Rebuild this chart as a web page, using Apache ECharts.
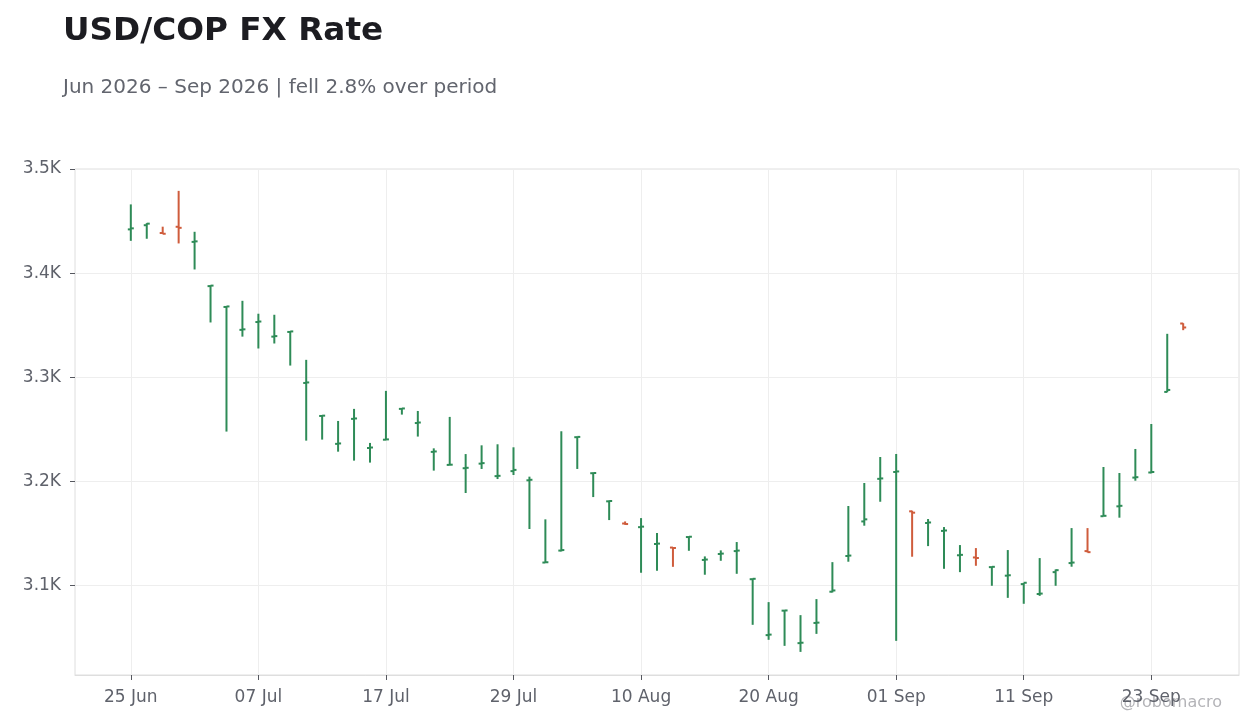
<!DOCTYPE html>
<html>
<head>
<meta charset="utf-8">
<title>USD/COP FX Rate</title>
<script src="https://cdn.jsdelivr.net/npm/echarts@6/dist/echarts.min.js"></script>
<style>
  html, body { margin: 0; padding: 0; background: #fff; }
  #chart { width: 1260px; height: 728px; }
</style>
</head>
<body>
<div id="chart"></div>
<script>
// business days shown on the x axis
var dates = [
  '2026-06-25', '2026-06-26', '2026-06-29', '2026-06-30',
  '2026-07-01', '2026-07-02', '2026-07-03', '2026-07-06', '2026-07-07', '2026-07-08',
  '2026-07-09', '2026-07-10', '2026-07-13', '2026-07-14', '2026-07-15', '2026-07-16',
  '2026-07-17', '2026-07-20', '2026-07-21', '2026-07-22', '2026-07-23', '2026-07-24',
  '2026-07-27', '2026-07-28', '2026-07-29', '2026-07-30', '2026-07-31',
  '2026-08-03', '2026-08-04', '2026-08-05', '2026-08-06', '2026-08-07', '2026-08-10',
  '2026-08-11', '2026-08-12', '2026-08-13', '2026-08-14', '2026-08-17', '2026-08-18',
  '2026-08-19', '2026-08-20', '2026-08-21', '2026-08-24', '2026-08-25', '2026-08-26',
  '2026-08-27', '2026-08-28', '2026-08-31',
  '2026-09-01', '2026-09-02', '2026-09-03', '2026-09-04', '2026-09-07', '2026-09-08',
  '2026-09-09', '2026-09-10', '2026-09-11', '2026-09-14', '2026-09-15', '2026-09-16',
  '2026-09-17', '2026-09-18', '2026-09-21', '2026-09-22', '2026-09-23', '2026-09-24',
  '2026-09-25'
];

var openVals = [
  3442, 3446, 3438.5, 3444.5, 3430, 3387.5, 3367.5, 3345.5, 3353, 3339,
  3343.5, 3294.5, 3262.8, 3236, 3260, 3232, 3240, 3269.6, 3256, 3228.3,
  3215.8, 3212.6, 3217, 3205, 3209.8, 3201, 3122, 3133.5, 3242.4, 3207.8,
  3180.8, 3159.5, 3156, 3139.8, 3136.4, 3146.5, 3124.5, 3130.2, 3133, 3106,
  3052.3, 3075.8, 3044.6, 3064, 3094, 3128.3, 3161.5, 3202.4, 3209, 3171.2,
  3160, 3152.4, 3129, 3126.9, 3117.6, 3109.4, 3101.3, 3091.8, 3112.8, 3121.5,
  3133, 3166.5, 3176, 3203.6, 3208.5, 3285.9, 3351.6
];
var highVals = [
  3466, 3448, 3444.6, 3479, 3439.7, 3388.3, 3368.3, 3373.4, 3361, 3360,
  3344.3, 3316.7, 3263.5, 3258, 3269.6, 3236.9, 3286.9, 3270.3, 3267.6, 3231.7,
  3261.9, 3226.2, 3234.6, 3235.6, 3232.7, 3204.5, 3163.5, 3248.1, 3242.9, 3208.3,
  3181.4, 3161.5, 3164.7, 3150.3, 3136.6, 3147, 3127.9, 3133.7, 3141.7, 3106.7,
  3084, 3076.2, 3071.5, 3086.9, 3122.4, 3176.3, 3198.4, 3223.4, 3226.3, 3171.8,
  3163.8, 3156.1, 3138.8, 3135.9, 3118.1, 3134, 3102.6, 3126.3, 3115.4, 3155.1,
  3155.1, 3213.8, 3208, 3231.1, 3255.1, 3341.7, 3351.9
];
var lowVals = [
  3431, 3433, 3437.5, 3428.5, 3403.5, 3352.6, 3247.8, 3339, 3327.6, 3332.4,
  3311.2, 3239.1, 3240.1, 3228.5, 3219.9, 3218, 3239.6, 3264.1, 3243, 3210.3,
  3215.5, 3188.8, 3211.9, 3202.2, 3206.1, 3154.2, 3121.7, 3132.7, 3211.9, 3184.9,
  3162.8, 3158.3, 3112.2, 3114.1, 3117.9, 3133.3, 3110.3, 3123.7, 3111.2, 3062.2,
  3047.8, 3042, 3036.2, 3053.5, 3093.3, 3122.8, 3157.4, 3180.4, 3046.8, 3127.6,
  3137.8, 3116, 3112.8, 3118.9, 3099.7, 3088.1, 3082.4, 3090, 3099.7, 3118,
  3131.7, 3166.3, 3165.1, 3200.6, 3207.7, 3285.6, 3345.2
];
var closeVals = [
  3443, 3447.5, 3437.8, 3443.5, 3430.5, 3388, 3368, 3346, 3353.5, 3339.5,
  3344, 3295, 3263.1, 3236.4, 3260.4, 3232.5, 3240.3, 3270, 3256.5, 3228.7,
  3216, 3213, 3217.5, 3205.3, 3211, 3201.5, 3122.3, 3134, 3242.7, 3208,
  3181.1, 3159, 3156.5, 3140.2, 3136, 3146.8, 3124.9, 3130.6, 3133.5, 3106.4,
  3052.8, 3076, 3045, 3064.3, 3095.2, 3128.7, 3163.5, 3202.8, 3209.5, 3169.9,
  3160.5, 3152.8, 3129.4, 3126.4, 3117.9, 3109.8, 3102.6, 3092.2, 3114.7, 3122,
  3132, 3166.9, 3176.5, 3204, 3209, 3287.8, 3347.8
];

var yMin = 3014;
var yMax = 3500;

var UP = '#2e8b57';
var DOWN = '#cf5c3c';
var MONTHS = ['Jan', 'Feb', 'Mar', 'Apr', 'May', 'Jun', 'Jul', 'Aug', 'Sep', 'Oct', 'Nov', 'Dec'];
var PAD = 3; // empty slots on each side of the axis
var LABEL_EVERY = 8;

function fmtDate (s) {
  if (!s) return '';
  var p = s.split('-');
  return p[2] + ' ' + MONTHS[+p[1] - 1];
}

var pad = [];
for (var k = 0; k < PAD; k++) pad.push('');
var categories = pad.concat(dates).concat(pad);

var ohlc = dates.map(function (d, i) {
  return [i + PAD, openVals[i], highVals[i], lowVals[i], closeVals[i]];
});

function showAt (idx) {
  var i = idx - PAD;
  return i >= 0 && i < dates.length && i % LABEL_EVERY === 0;
}

var chart = echarts.init(document.getElementById('chart'));

var option = {
  backgroundColor: '#ffffff',
  animation: false,
  textStyle: { fontFamily: 'DejaVu Sans' },
  title: [
    {
      text: 'USD/COP FX Rate',
      left: 58,
      top: 10,
      textStyle: { fontSize: 32.7, fontWeight: 'bold', color: '#1c1c21', fontFamily: 'DejaVu Sans' }
    },
    {
      text: 'Jun 2026 – Sep 2026 | fell 2.8% over period',
      left: 58,
      top: 73,
      textStyle: { fontSize: 20, fontWeight: 'normal', color: '#62656e', fontFamily: 'DejaVu Sans' }
    }
  ],
  graphic: [
    {
      type: 'text',
      right: 38,
      top: 695,
      style: { text: '@robomacro', fontSize: 16, fill: '#b4b4b8', fontFamily: 'DejaVu Sans' }
    }
  ],
  grid: {
    left: 75,
    right: 21,
    top: 169,
    bottom: 53,
    show: true,
    borderColor: '#dedede',
    borderWidth: 1,
    backgroundColor: '#ffffff'
  },
  xAxis: {
    type: 'category',
    data: categories,
    boundaryGap: true,
    axisLine: { show: true, lineStyle: { color: '#dedede' } },
    axisTick: {
      show: true,
      alignWithLabel: true,
      interval: showAt,
      length: 5,
      lineStyle: { color: '#55575e' }
    },
    axisLabel: {
      interval: showAt,
      formatter: fmtDate,
      fontSize: 17,
      color: '#5f626b',
      margin: 14
    },
    splitLine: {
      show: true,
      alignWithLabel: true,
      interval: showAt,
      lineStyle: { color: '#eeeeee', width: 1 }
    }
  },
  yAxis: {
    type: 'value',
    min: yMin,
    max: yMax,
    splitNumber: 5,
    axisLine: { show: false },
    axisTick: { show: true, length: 5, lineStyle: { color: '#55575e' } },
    axisLabel: {
      fontSize: 17,
      color: '#5f626b',
      margin: 14,
      padding: [6, 0, 0, 0],
      showMinLabel: false,
      formatter: function (v) { return (v / 1000).toFixed(1) + 'K'; }
    },
    splitLine: { show: true, lineStyle: { color: '#eeeeee', width: 1 } }
  },
  series: [
    {
      type: 'custom',
      name: 'USD/COP',
      data: ohlc,
      encode: { x: 0, y: [1, 2, 3, 4] },
      renderItem: function (params, api) {
        var x = api.value(0);
        var o = api.coord([x, api.value(1)]);
        var h = api.coord([x, api.value(2)]);
        var l = api.coord([x, api.value(3)]);
        var c = api.coord([x, api.value(4)]);
        var color = api.value(4) >= api.value(1) ? UP : DOWN;
        var style = { stroke: color, lineWidth: 2 };
        var cx = o[0];
        return {
          type: 'group',
          children: [
            { type: 'line', shape: { x1: cx, y1: h[1], x2: cx, y2: l[1] }, style: style },
            { type: 'line', shape: { x1: cx - 3, y1: o[1], x2: cx, y2: o[1] }, style: style },
            { type: 'line', shape: { x1: cx, y1: c[1], x2: cx + 3, y2: c[1] }, style: style }
          ]
        };
      }
    }
  ]
};

chart.setOption(option);
</script>
</body>
</html>
